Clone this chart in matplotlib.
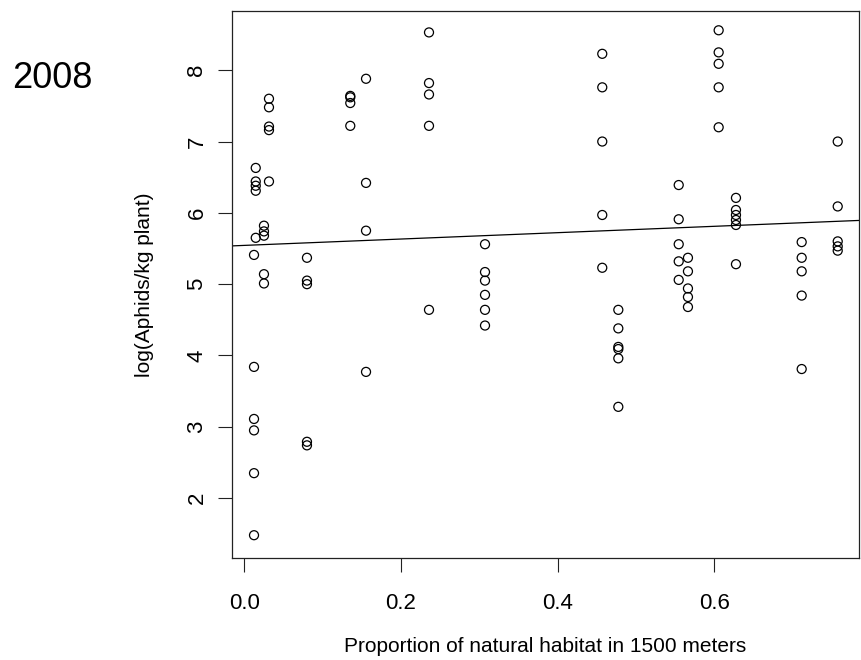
import numpy as np
import matplotlib
matplotlib.use("Agg")
import matplotlib.pyplot as plt

# proportion of natural habitat within 1500 m, one entry per plant sample
habitat = [0.0146] * 5 + [0.0124] * 6 + [0.0251] * 5 + [0.0315] * 5 + \
          [0.080] * 5 + [0.1353] * 4 + [0.1554] * 4 + [0.2358] * 5 + \
          [0.3073] * 6 + [0.457] * 5 + [0.4775] * 6 + [0.5546] * 5 + \
          [0.5664] * 5 + [0.6056] * 5 + [0.6277] * 6 + [0.7116] * 5 + \
          [0.7576] * 5

log_aphids = [6.63, 6.44, 6.38, 6.31, 5.65,
              5.41, 3.84, 3.11, 2.95, 2.35, 1.48,
              5.82, 5.74, 5.68, 5.14, 5.01,
              7.60, 7.48, 7.21, 7.16, 6.44,
              5.37, 5.05, 5.00, 2.79, 2.74,
              7.64, 7.62, 7.54, 7.22,
              7.88, 6.42, 5.75, 3.77,
              8.53, 7.82, 7.66, 7.22, 4.64,
              5.56, 5.17, 5.05, 4.85, 4.64, 4.42,
              8.23, 7.76, 7.00, 5.97, 5.23,
              4.64, 4.38, 4.12, 4.09, 3.96, 3.28,
              6.39, 5.91, 5.56, 5.32, 5.06,
              5.37, 5.18, 4.94, 4.82, 4.68,
              8.56, 8.25, 8.09, 7.76, 7.20,
              6.21, 6.04, 5.97, 5.90, 5.83, 5.28,
              5.59, 5.37, 5.18, 4.84, 3.81,
              7.00, 6.09, 5.60, 5.53, 5.47]

x_ticks = [0.0, 0.2, 0.4, 0.6]
x_tick_labels = ["0.0", "0.2", "0.4", "0.6"]
y_ticks = [2, 3, 4, 5, 6, 7, 8]
year = "2008"

plt.rcParams['font.family'] = ['Liberation Sans', 'DejaVu Sans']

x = np.array(habitat)
y = np.array(log_aphids)
slope, intercept = np.polyfit(x, y, 1)

fig = plt.figure(figsize=(8.61, 6.6), dpi=100)
ax = fig.add_axes([0.2691, 0.1545, 0.7286, 0.8288])

ax.scatter(x, y, s=42, facecolors='none', edgecolors='black', linewidths=0.9)
ax.axline((0, intercept), slope=slope, color='black', linewidth=0.9)

ax.set_xlim(-0.0161, 0.7848)
ax.set_ylim(1.16, 8.83)

ax.set_xticks(x_ticks)
ax.set_xticklabels(x_tick_labels)
ax.set_yticks(y_ticks)
ax.set_yticklabels([str(v) for v in y_ticks], rotation=90, va='center')

ax.tick_params(axis='both', length=10, width=0.8, labelsize=16, color='#222222')
ax.tick_params(axis='x', pad=15)
ax.tick_params(axis='y', pad=7.5)
for side in ax.spines.values():
    side.set_linewidth(0.9)
    side.set_color('#222222')

fig.text(545 / 861, 1 - 651.7 / 660, "Proportion of natural habitat in 1500 meters",
         ha='center', va='baseline', fontsize=15)
fig.text(145 / 861, 1 - 285 / 660, "log(Aphids/kg plant)",
         ha='center', va='center', rotation=90, fontsize=15)
fig.text(92 / 861, 1 - 88 / 660, year, ha='right', va='baseline', fontsize=26)

fig.savefig("out.png", dpi=100)
